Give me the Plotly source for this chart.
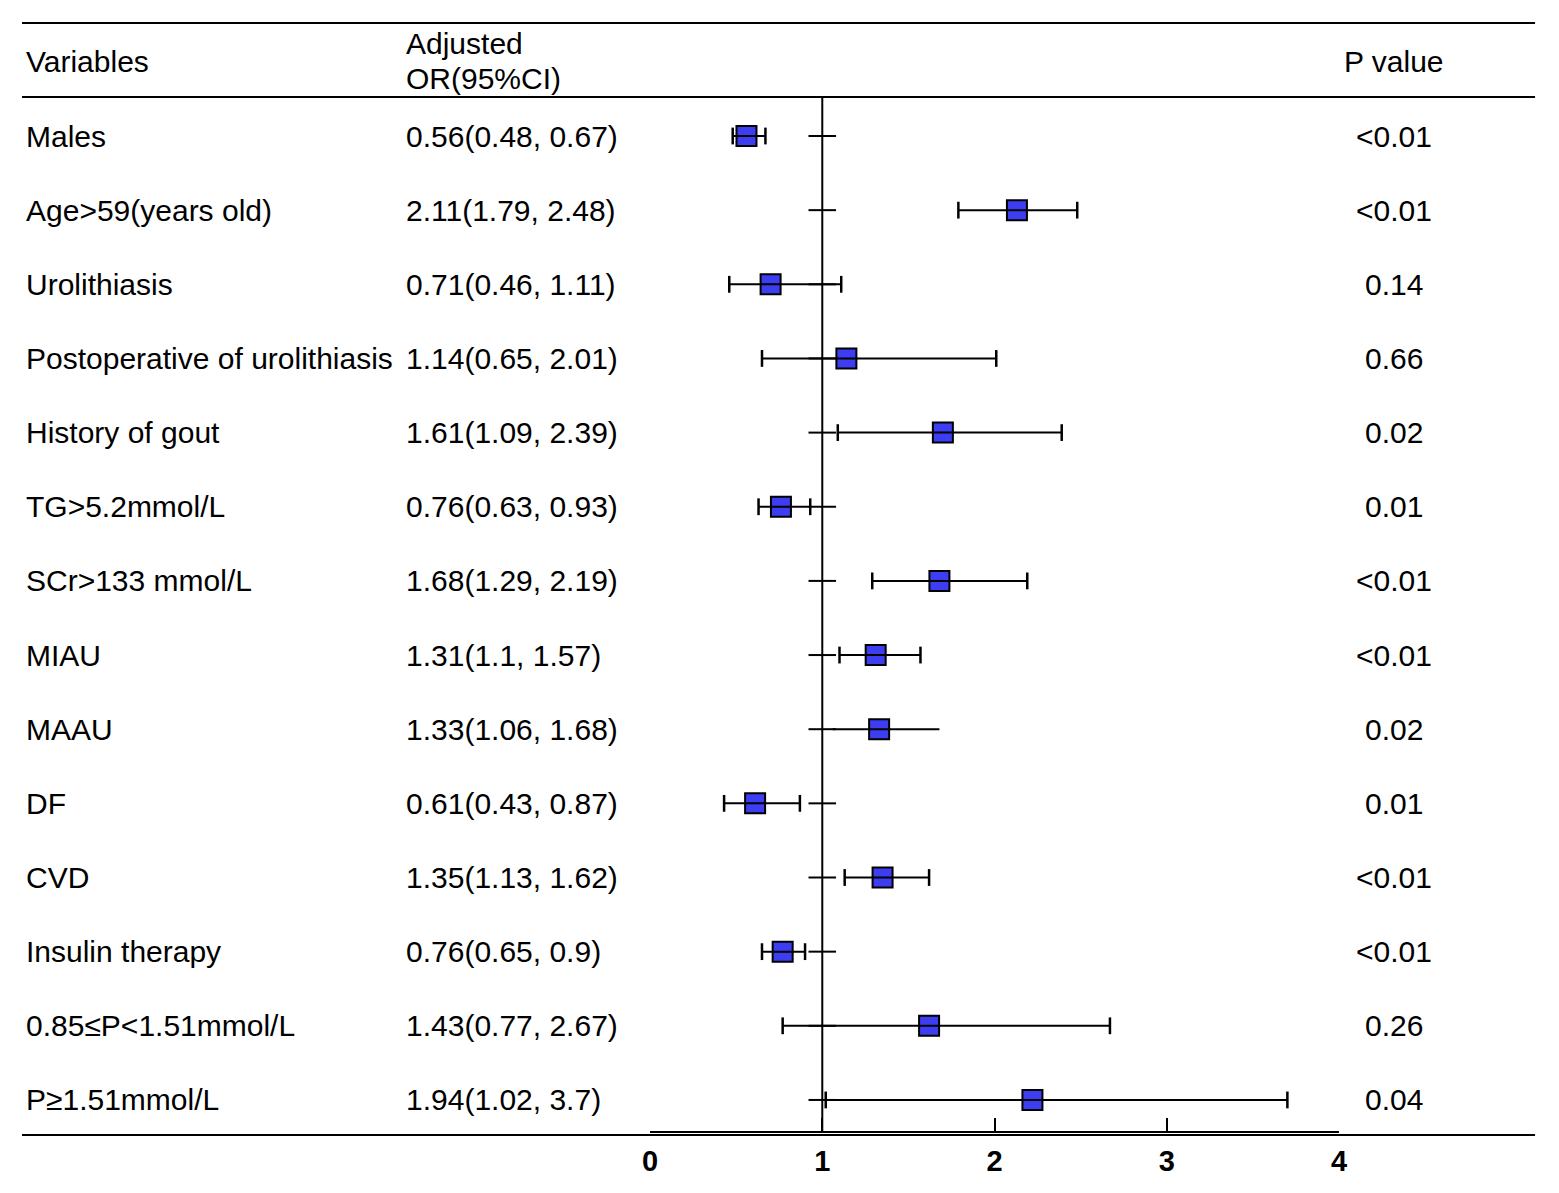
import plotly.graph_objects as go

# ----------------
# DATA
# ----------------
variables = [
    "Males", "Age>59(years old)", "Urolithiasis", "Postoperative of urolithiasis",
    "History of gout", "TG>5.2mmol/L", "SCr>133 mmol/L", "MIAU", "MAAU", "DF",
    "CVD", "Insulin therapy", "0.85≤P<1.51mmol/L", "P≥1.51mmol/L",
]
or_text = [
    "0.56(0.48, 0.67)", "2.11(1.79, 2.48)", "0.71(0.46, 1.11)", "1.14(0.65, 2.01)",
    "1.61(1.09, 2.39)", "0.76(0.63, 0.93)", "1.68(1.29, 2.19)", "1.31(1.1, 1.57)",
    "1.33(1.06, 1.68)", "0.61(0.43, 0.87)", "1.35(1.13, 1.62)", "0.76(0.65, 0.9)",
    "1.43(0.77, 2.67)", "1.94(1.02, 3.7)",
]
p_values = ["<0.01", "<0.01", "0.14", "0.66", "0.02", "0.01", "<0.01", "<0.01",
            "0.02", "0.01", "<0.01", "<0.01", "0.26", "0.04"]
# square positions as drawn in the picture
estimate = [0.56, 2.13, 0.70, 1.14, 1.70, 0.76, 1.68, 1.31, 1.33, 0.61, 1.35, 0.77, 1.62, 2.22]
ci_low = [0.48, 1.79, 0.46, 0.65, 1.09, 0.63, 1.29, 1.10, 1.06, 0.43, 1.13, 0.65, 0.77, 1.02]
ci_high = [0.67, 2.48, 1.11, 2.01, 2.39, 0.93, 2.19, 1.57, 1.68, 0.87, 1.62, 0.90, 2.67, 3.70]
has_caps = [True] * 8 + [False] + [True] * 5
x_ticks = [0, 1, 2, 3, 4]

W, H = 1559, 1193
rows = list(range(len(variables)))

FONT = "Liberation Sans, Arial, Helvetica, sans-serif"
TICKFONT = "Liberation Sans Narrow, Arial Narrow, Liberation Sans, Arial, sans-serif"


def px(xpix):
    # screen x pixel -> paper x (small correction for the capture squeeze)
    return ((xpix - 8) / 0.9897) / W


def py(ypix):
    return 1 - ypix / H


fig = go.Figure()

# small reference ticks at OR = 1 on every row
ref_x, ref_y = [], []
for r in rows:
    ref_x += [0.92, 1.08, None]
    ref_y += [r, r, None]
fig.add_trace(go.Scatter(x=ref_x, y=ref_y, mode="lines",
                         line=dict(color="black", width=2), hoverinfo="skip"))

# squares
fig.add_trace(go.Scatter(
    x=estimate, y=rows, mode="markers",
    marker=dict(symbol="square", size=20, color="#3d3df2",
                line=dict(color="black", width=2)),
))

# CI lines drawn over the squares
ci_x, ci_y = [], []
for r in rows:
    ci_x += [ci_low[r], ci_high[r], None]
    ci_y += [r, r, None]
fig.add_trace(go.Scatter(x=ci_x, y=ci_y, mode="lines",
                         line=dict(color="black", width=2), hoverinfo="skip"))

# caps
cap_x, cap_y = [], []
for r in rows:
    if has_caps[r]:
        cap_x += [ci_low[r], ci_high[r]]
        cap_y += [r, r]
fig.add_trace(go.Scatter(x=cap_x, y=cap_y, mode="markers",
                         marker=dict(symbol="line-ns", size=12,
                                     line=dict(color="black", width=2.5)),
                         hoverinfo="skip"))

# ----------------
# TEXT COLUMNS
# ----------------
ann = []
for r in rows:
    ann.append(dict(x=px(24), y=r, xref="paper", yref="y", text=variables[r],
                    xanchor="left", yanchor="middle", showarrow=False))
    ann.append(dict(x=px(404), y=r, xref="paper", yref="y", text=or_text[r],
                    xanchor="left", yanchor="middle", showarrow=False))
    ann.append(dict(x=px(1394), y=r, xref="paper", yref="y", text=p_values[r],
                    xanchor="center", yanchor="middle", showarrow=False))

ann.append(dict(x=px(24), y=py(62), xref="paper", yref="paper", text="Variables",
                xanchor="left", yanchor="middle", showarrow=False))
ann.append(dict(x=px(404), y=py(44), xref="paper", yref="paper", text="Adjusted",
                xanchor="left", yanchor="middle", showarrow=False))
ann.append(dict(x=px(404), y=py(78), xref="paper", yref="paper", text="OR(95%CI)",
                xanchor="left", yanchor="middle", showarrow=False))
ann.append(dict(x=px(1394), y=py(62), xref="paper", yref="paper", text="P value",
                xanchor="center", yanchor="middle", showarrow=False))

# ----------------
# LINES
# ----------------
shapes = []
for ypix in [23, 97, 1135]:
    shapes.append(dict(type="line", xref="paper", yref="paper",
                       x0=px(22), x1=px(1535), y0=py(ypix), y1=py(ypix),
                       line=dict(color="black", width=2)))
shapes.append(dict(type="line", xref="x", yref="paper", x0=1, x1=1,
                   y0=py(97), y1=py(1132), line=dict(color="black", width=2)))

row_px = 74.15
top_row_px = 136

fig.update_layout(
    width=W, height=H,
    margin=dict(l=0, r=0, t=0, b=0),
    plot_bgcolor="white", paper_bgcolor="white",
    showlegend=False,
    font=dict(family=FONT, size=30, color="black"),
    annotations=ann,
    shapes=shapes,
    xaxis=dict(
        domain=[px(650), px(1339)], range=[0, 4],
        anchor="free", position=py(1132),
        tickvals=x_ticks, ticktext=["<b>%d</b>" % t for t in x_ticks],
        ticks="inside", ticklen=13, tickwidth=2, tickcolor="black",
        showline=True, linecolor="black", linewidth=2,
        showgrid=False, zeroline=False, ticklabelstandoff=3,
        tickfont=dict(family=TICKFONT, size=29, color="black"),
    ),
    yaxis=dict(
        domain=[0, 1],
        range=[(H - top_row_px) / row_px, -top_row_px / row_px],
        visible=False, showgrid=False, zeroline=False,
    ),
)

# drop the default page margin so the figure sits at the window origin
fig.write_html("out.html", config={"displayModeBar": False},
               post_script="document.body.style.margin='0';document.body.style.overflow='hidden';")
